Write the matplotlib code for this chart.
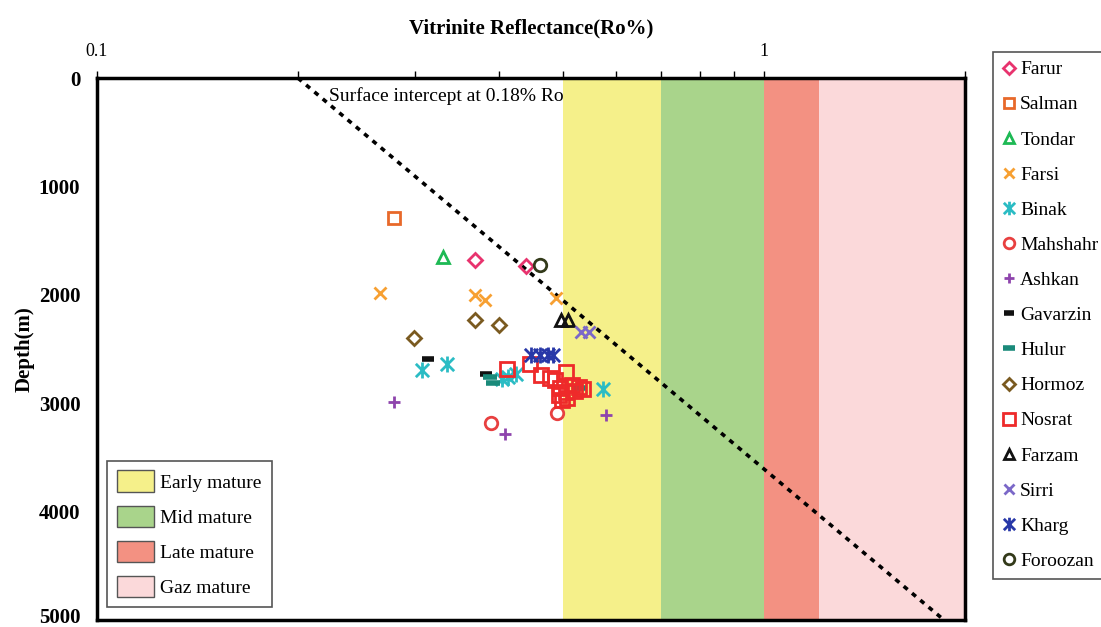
import matplotlib
matplotlib.use("Agg")
import matplotlib.pyplot as plt
import matplotlib.transforms as mtransforms
from matplotlib.patches import Patch
from matplotlib.path import Path
from matplotlib.ticker import FixedLocator, NullFormatter, FixedFormatter

plt.rcParams["font.family"] = ["Liberation Serif", "DejaVu Serif"]

# maturity windows (Ro %)
band_edges = [0.5, 0.7, 1.0, 1.21, 2.0]
band_names = ["Early mature", "Mid mature", "Late mature", "Gaz mature"]
band_colors = ["#f5f08a", "#a9d48b", "#f39182", "#fbd9da"]

# trend line: surface intercept to bottom of chart
trend_ro = [0.2, 1.86]
trend_depth = [0, 5000]

# wells: (Ro %, depth m)
farur_ro = [0.369, 0.440]
farur_d = [1680, 1730]
salman_ro = [0.279]
salman_d = [1290]
tondar_ro = [0.330]
tondar_d = [1650]
farsi_ro = [0.266, 0.369, 0.382, 0.487]
farsi_d = [1980, 2000, 2045, 2025]
binak_ro = [0.307, 0.335, 0.405, 0.413, 0.424, 0.573]
binak_d = [2690, 2640, 2780, 2760, 2735, 2865]
mahshahr_ro = [0.390, 0.490]
mahshahr_d = [3180, 3090]
ashkan_ro = [0.279, 0.409, 0.579]
ashkan_d = [2990, 3280, 3110]
gavarzin_ro = [0.313, 0.383]
gavarzin_d = [2590, 2735]
hulur_ro = [0.388, 0.392, 0.529]
hulur_d = [2760, 2815, 2860]
hormoz_ro = [0.299, 0.369, 0.400]
hormoz_d = [2395, 2235, 2280]
nosrat_ro = [0.411, 0.445, 0.463, 0.477, 0.486, 0.504, 0.495, 0.505, 0.516, 0.527,
             0.493, 0.507, 0.498, 0.520, 0.535]
nosrat_d = [2685, 2640, 2740, 2770, 2790, 2710, 2860, 2900, 2835, 2855,
            2925, 2950, 2970, 2890, 2870]
farzam_ro = [0.496, 0.508]
farzam_d = [2232, 2232]
sirri_ro = [0.532, 0.547]
sirri_d = [2340, 2340]
kharg_ro = [0.447, 0.461, 0.474, 0.482]
kharg_d = [2555, 2555, 2555, 2555]
foroozan_ro = [0.461]
foroozan_d = [1725]

star = Path([(-1, -1), (1, 1), (-1, 1), (1, -1), (0, -1.2), (0, 1.2)],
            [Path.MOVETO, Path.LINETO, Path.MOVETO, Path.LINETO, Path.MOVETO, Path.LINETO])

series = [
    ("Farur", farur_ro, farur_d, "D", "#e8336e", 7),
    ("Salman", salman_ro, salman_d, "s", "#e8692a", 9),
    ("Tondar", tondar_ro, tondar_d, "^", "#1db954", 9),
    ("Farsi", farsi_ro, farsi_d, "x", "#f7a032", 9),
    ("Binak", binak_ro, binak_d, star, "#2bbcc4", 11.5),
    ("Mahshahr", mahshahr_ro, mahshahr_d, "o", "#e84040", 9),
    ("Ashkan", ashkan_ro, ashkan_d, "+", "#8e44ad", 9),
    ("Gavarzin", gavarzin_ro, gavarzin_d, "_", "#111111", 8),
    ("Hulur", hulur_ro, hulur_d, "_", "#1a8a7a", 10),
    ("Hormoz", hormoz_ro, hormoz_d, "D", "#7a5a20", 7),
    ("Nosrat", nosrat_ro, nosrat_d, "s", "#ee2a2a", 10),
    ("Farzam", farzam_ro, farzam_d, "^", "#111111", 9),
    ("Sirri", sirri_ro, sirri_d, "x", "#7b68c8", 9),
    ("Kharg", kharg_ro, kharg_d, star, "#2838a8", 11.5),
    ("Foroozan", foroozan_ro, foroozan_d, "o", "#333a1a", 9),
]

fig = plt.figure(figsize=(11.01, 6.27), dpi=100)
ax = fig.add_axes([97 / 1101, 1 - 620 / 627, 868 / 1101, 542 / 627])

for i in range(len(band_names)):
    ax.axvspan(band_edges[i], band_edges[i + 1], color=band_colors[i], lw=0, zorder=0)

ax.plot(trend_ro, trend_depth, color="black", lw=2.6, linestyle=(0, (1.4, 1.6)), zorder=2)

handles = []
for name, ro, d, mk, col, ms in series:
    mew = 4 if mk == "_" else 2
    h, = ax.plot(ro, d, linestyle="none", marker=mk, markersize=ms, markerfacecolor="none",
                 markeredgecolor=col, markeredgewidth=mew, label=name, zorder=3)
    handles.append(h)

ax.text(0.223, 165, "Surface intercept at 0.18% Ro", fontsize=14, ha="left", va="center", zorder=4)

ax.set_xscale("log")
ax.set_xlim(0.1, 2)
ax.set_ylim(5000, 0)

ax.xaxis.tick_top()
ax.xaxis.set_label_position("top")
ax.xaxis.set_major_locator(FixedLocator([0.1, 1]))
ax.xaxis.set_major_formatter(FixedFormatter(["0.1", "1"]))
ax.xaxis.set_minor_locator(FixedLocator([0.2, 0.3, 0.4, 0.5, 0.6, 0.7, 0.8, 0.9, 2]))
ax.xaxis.set_minor_formatter(NullFormatter())
ax.tick_params(axis="x", which="both", direction="out", length=5, width=1, pad=8, labelsize=13)
ax.tick_params(axis="y", length=0, pad=12, labelsize=15)
ax.set_yticks([0, 1000, 2000, 3000, 4000, 5000])
for lab in ax.get_yticklabels():
    lab.set_fontweight("bold")
last = ax.get_yticklabels()[-1]
last.set_transform(last.get_transform() + mtransforms.ScaledTranslation(0, 3 / 72, fig.dpi_scale_trans))

ax.set_xlabel("Vitrinite Reflectance(Ro%)", fontsize=15, fontweight="bold", labelpad=7)
ax.set_ylabel("Depth(m)", fontsize=15, fontweight="bold", labelpad=3)

for sp in ax.spines.values():
    sp.set_linewidth(2.5)

leg1 = ax.legend(handles=handles, loc="upper left", bbox_to_anchor=(993 / 1101, 1 - 52 / 627),
                 bbox_transform=fig.transFigure, borderaxespad=0, fontsize=14,
                 handlelength=0.7, handletextpad=0.25, labelspacing=0.9, markerscale=0.85,
                 fancybox=False, edgecolor="#555555", framealpha=1, borderpad=0.45)
leg1.get_frame().set_linewidth(1.2)
ax.add_artist(leg1)

band_handles = [Patch(facecolor=c, edgecolor="#555555", lw=1) for c in band_colors]
leg2 = ax.legend(handles=band_handles, labels=band_names, loc="lower left",
                 bbox_to_anchor=(0.0115, 0.024), borderaxespad=0, fontsize=14,
                 handlelength=1.9, handleheight=1.3, labelspacing=0.72, handletextpad=0.35,
                 fancybox=False, edgecolor="#555555", framealpha=1, borderpad=0.5)
leg2.get_frame().set_linewidth(1.2)

fig.savefig("out.png", dpi=100)
